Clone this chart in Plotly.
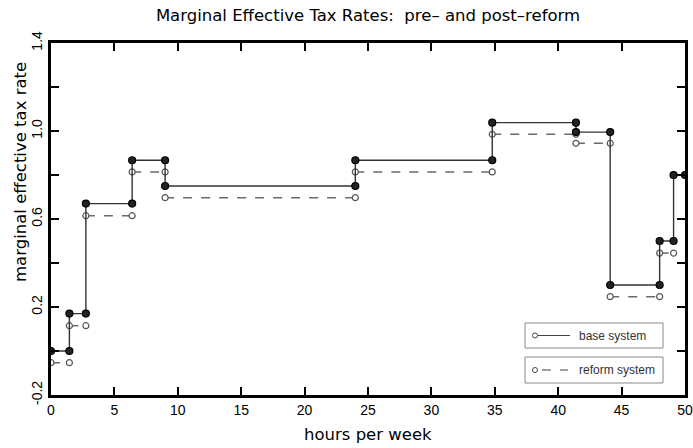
import plotly.graph_objects as go

# Hours-per-week break points where the marginal rate changes
hours_breaks = [0, 1.45, 2.75, 6.4, 9.0, 24.0, 34.8, 41.4, 44.1, 48.0, 49.1, 50]
# Marginal effective tax rate on each interval
base_rate = [0.0, 0.17, 0.67, 0.867, 0.75, 0.867, 1.038, 0.995, 0.30, 0.50, 0.80]
reform_rate = [-0.053, 0.115, 0.615, 0.814, 0.697, 0.814, 0.985, 0.944, 0.247, 0.445, 0.80]

x_ticks = [0, 5, 10, 15, 20, 25, 30, 35, 40, 45, 50]
y_ticks = [-0.2, 0.0, 0.2, 0.4, 0.6, 0.8, 1.0, 1.2, 1.4]
y_ticktext = ["-0.2", "", "0.2", "", "0.6", "", "1.0", "", "1.4"]

FONT = "Liberation Sans"
TITLE_FONT = "DejaVu Sans"

# Base system: continuous step line with a marker at each interval end
bx, by = [], []
for i, v in enumerate(base_rate):
    bx += [hours_breaks[i], hours_breaks[i + 1]]
    by += [v, v]

# Reform system: separate dashed horizontal segments
rx, ry = [], []
for i, v in enumerate(reform_rate):
    rx += [hours_breaks[i], hours_breaks[i + 1], None]
    ry += [v, v, None]

fig = go.Figure()
fig.add_trace(go.Scatter(
    x=rx, y=ry, mode="lines+markers", name="reform system",
    line=dict(color="#6a6a6a", width=1.5, dash="dash"),
    marker=dict(symbol="circle", size=6, color="white",
                line=dict(color="#555555", width=1.2)),
    showlegend=False,
))
fig.add_trace(go.Scatter(
    x=bx, y=by, mode="lines+markers", name="base system",
    line=dict(color="#333333", width=1.4),
    marker=dict(symbol="circle", size=7, color="#222222",
                line=dict(color="#000000", width=1.2)),
    showlegend=False,
))

L, R, T, B = 51, 8, 43, 53
W, H = 693, 448
pw, ph = W - L - R, H - T - B


def px(xp):
    return (xp - L) / pw


def py(yp):
    return (H - B - yp) / ph


shapes = []
annotations = []

# Legend boxes
for (y0, y1) in [(323, 348), (357, 383)]:
    shapes.append(dict(type="rect", xref="paper", yref="paper",
                       x0=px(525), x1=px(663), y0=py(y1), y1=py(y0),
                       line=dict(color="#8a8a8a", width=1), fillcolor="white"))
# Legend sample lines
shapes.append(dict(type="line", xref="paper", yref="paper",
                   x0=px(535), x1=px(570), y0=py(335.5), y1=py(335.5),
                   line=dict(color="#444444", width=1.2)))
shapes.append(dict(type="line", xref="paper", yref="paper",
                   x0=px(542), x1=px(568), y0=py(370), y1=py(370),
                   line=dict(color="#444444", width=1.2, dash="dash")))
for yy in (335.5, 370):
    shapes.append(dict(type="circle", xref="paper", yref="paper",
                       xsizemode="pixel", ysizemode="pixel",
                       xanchor=px(535), yanchor=py(yy),
                       x0=-2.5, x1=2.5, y0=-2.5, y1=2.5,
                       line=dict(color="#444444", width=1), fillcolor="white"))
for yy, txt in [(335.5, "base system"), (370, "reform system")]:
    annotations.append(dict(text=txt, xref="paper", yref="paper",
                            x=px(577), y=py(yy), xanchor="left", yanchor="middle",
                            showarrow=False,
                            font=dict(family=FONT, size=12, color="#333333")))

# Axis titles
annotations.append(dict(text="marginal effective tax rate", xref="paper", yref="paper",
                        x=px(20), y=py(172), textangle=-90, showarrow=False,
                        xanchor="center", yanchor="middle",
                        font=dict(family=TITLE_FONT, size=16.5, color="black")))
annotations.append(dict(text="hours per week", xref="paper", yref="paper",
                        x=0.5, y=py(435), showarrow=False,
                        xanchor="center", yanchor="middle",
                        font=dict(family=TITLE_FONT, size=16.5, color="black")))

axis_common = dict(showline=True, linecolor="black", linewidth=3, mirror="allticks",
                   ticks="inside", ticklen=8, tickwidth=1.5, tickcolor="black",
                   showgrid=False, zeroline=False, automargin=False,
                   tickfont=dict(family=FONT, size=14, color="black"))

fig.update_layout(
    width=W, height=H,
    margin=dict(l=L, r=R, t=T, b=B),
    paper_bgcolor="white", plot_bgcolor="white",
    title=dict(text="Marginal Effective Tax Rates:  pre\u2013 and post\u2013reform",
               x=0.5, xref="paper", xanchor="center",
               y=1 - 15 / H, yref="container", yanchor="middle",
               font=dict(family=TITLE_FONT, size=16.5, color="black")),
    xaxis=dict(range=[0, 50], tickvals=x_ticks, **axis_common),
    yaxis=dict(range=[-0.2, 1.4], tickvals=y_ticks, ticktext=y_ticktext,
               tickangle=-90, **axis_common),
    shapes=shapes,
    annotations=annotations,
)

fig.write_html("out.html")
